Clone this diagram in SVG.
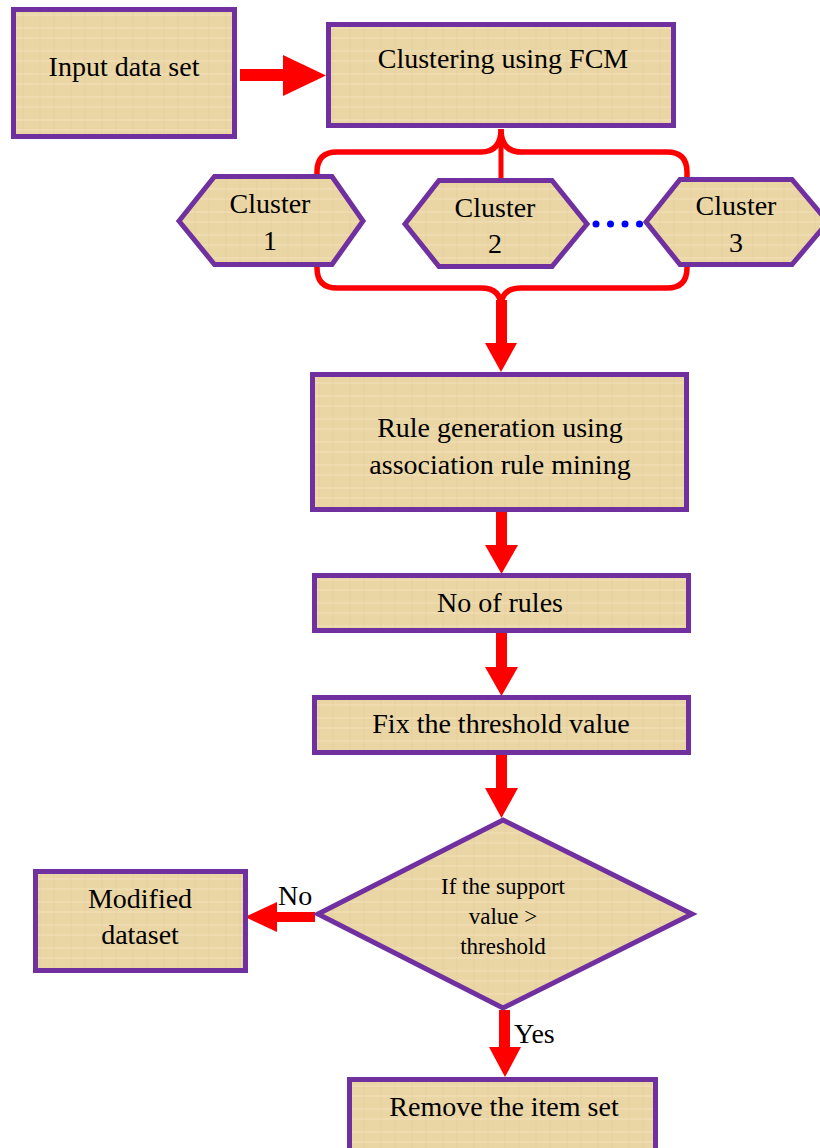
<svg xmlns="http://www.w3.org/2000/svg" width="820" height="1148" viewBox="0 0 820 1148">
<style>
.box{fill:url(#pap);stroke:#7030A0;stroke-width:5}
.t{font-family:"Liberation Serif","Times New Roman",serif;font-size:28px;fill:#000;text-anchor:middle}
.d{font-size:23px}
.lbl{text-anchor:start}
.ar{fill:#FF0000}
.br{fill:none;stroke:#FF0000;stroke-width:5.5}
</style>
<defs>
<pattern id="pap" width="31" height="23" patternUnits="userSpaceOnUse">
<rect width="31" height="23" fill="#EAD5A4"/>
<path d="M0 5H31M0 15H31" stroke="#F3E3BC" stroke-width="2" opacity="0.45"/>
<path d="M9 0V23M23 0V23" stroke="#DCC28E" stroke-width="1" opacity="0.3"/>
</pattern>
</defs>
<rect width="820" height="1148" fill="#FFFFFF"/>
<g id="connectors">
<rect class="ar" x="240" y="69" width="44" height="12"/>
<polygon class="ar" points="283,55 326,75.5 283,96"/>
<path class="br" d="M317,176 V172 Q317,152 337,152 H481 Q501,152 501,129 Q501,152 521,152 H667 Q687,152 687,172 V178"/>
<line x1="501" y1="129" x2="501" y2="179" stroke="#FF0000" stroke-width="5"/>
<path class="br" d="M317,266 V268 Q317,288 337,288 H481 Q501,288 501,307 Q501,288 521,288 H667 Q687,288 687,268 V266"/>
<rect class="ar" x="496" y="300" width="11" height="44"/>
<polygon class="ar" points="485,343 517,343 501,372"/>
<rect class="ar" x="496" y="512" width="11" height="34"/>
<polygon class="ar" points="485,545 518,545 501.5,574"/>
<rect class="ar" x="496" y="633" width="11" height="35"/>
<polygon class="ar" points="485,667 518,667 501.5,696"/>
<rect class="ar" x="496" y="755" width="11" height="34"/>
<polygon class="ar" points="485,788 518,788 501.5,818"/>
<rect class="ar" x="277" y="912" width="38" height="10"/>
<polygon class="ar" points="277,902 277,932 245,917"/>
<rect class="ar" x="499" y="1010" width="11" height="38"/>
<polygon class="ar" points="489,1047 521,1047 505,1077"/>
<g fill="#0000FF">
<circle cx="596" cy="224" r="3.5"/><circle cx="610.5" cy="224" r="3.5"/><circle cx="625" cy="224" r="3.5"/><circle cx="639.5" cy="224" r="3.5"/>
</g>
<text class="t lbl" x="278" y="905">No</text>
<text class="t lbl" x="514" y="1043">Yes</text>
</g>
<g id="input">
<rect class="box" x="13.5" y="9.5" width="221" height="127"/>
<text class="t" x="124" y="76">Input data set</text>
</g>
<g id="fcm">
<rect class="box" x="328.5" y="24.5" width="345" height="101"/>
<text class="t" x="503" y="68">Clustering using FCM</text>
</g>
<g id="cluster1">
<polygon class="box" points="179,221 214.5,176.5 332,176.5 363,221 332,264.5 214.5,264.5"/>
<text class="t" x="270" y="213">Cluster</text>
<text class="t" x="270" y="250">1</text>
</g>
<g id="cluster2">
<polygon class="box" points="405,224 439,180.5 552,180.5 587,224 552,266.5 439,266.5"/>
<text class="t" x="495" y="217">Cluster</text>
<text class="t" x="495" y="253">2</text>
</g>
<g id="cluster3">
<polygon class="box" points="646,222 680,179.5 792,179.5 828,222 792,264.5 680,264.5"/>
<text class="t" x="736" y="215">Cluster</text>
<text class="t" x="736" y="252">3</text>
</g>
<g id="rulegen">
<rect class="box" x="312.5" y="374.5" width="374" height="135"/>
<text class="t" x="500" y="437">Rule generation using</text>
<text class="t" x="500" y="474">association rule mining</text>
</g>
<g id="norules">
<rect class="box" x="314.5" y="575.5" width="374" height="55"/>
<text class="t" x="500" y="612">No of rules</text>
</g>
<g id="fix">
<rect class="box" x="314.5" y="697.5" width="374" height="55"/>
<text class="t" x="501" y="733">Fix the threshold value</text>
</g>
<g id="decision">
<polygon class="box" points="503,820 692,914 503,1008 318,914"/>
<text class="t d" x="503" y="894">If the support</text>
<text class="t d" x="503" y="924">value &gt;</text>
<text class="t d" x="503" y="954">threshold</text>
</g>
<g id="modified">
<rect class="box" x="35.5" y="871.5" width="210" height="99"/>
<text class="t" x="140" y="908">Modified</text>
<text class="t" x="140" y="944">dataset</text>
</g>
<g id="remove">
<rect class="box" x="349.5" y="1079.5" width="306" height="100"/>
<text class="t" x="504" y="1116">Remove the item set</text>
</g>
</svg>
